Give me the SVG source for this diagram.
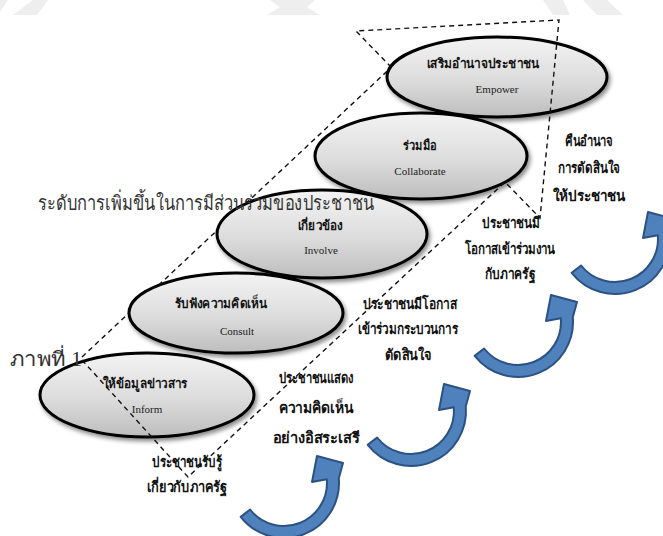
<svg xmlns="http://www.w3.org/2000/svg" width="663" height="536" viewBox="0 0 663 536">
<defs>
<linearGradient id="g" x1="0" y1="0" x2="0" y2="1">
<stop offset="0" stop-color="#f3f3f3"/><stop offset="0.55" stop-color="#dcdcdc"/><stop offset="1" stop-color="#bdbdbd"/>
</linearGradient>
<filter id="sh" x="-10%" y="-15%" width="125%" height="145%">
<feDropShadow dx="2" dy="3" stdDeviation="2" flood-color="#000" flood-opacity="0.45"/>
</filter>
<path id="carrow" d="M -43.3,33.9 A 55 55 0 0 0 54.8,-4.8 L 59,-20 L 33,-27 L 28,-1 L 42.8,-3.7 A 43 43 0 0 1 -33.9,26.5 Z"/>
</defs>
<style>
.ell{fill:url(#g);stroke:#000;stroke-width:3;filter:url(#sh)}
.th{font-family:"Noto Sans","DejaVu Sans",sans-serif;font-weight:bold;font-size:13px;fill:#111;text-anchor:middle}
.en{font-family:"Liberation Serif",serif;font-size:11px;fill:#222;text-anchor:middle}
.lbl{font-family:"Noto Sans","DejaVu Sans",sans-serif;font-weight:bold;font-size:15px;fill:#111;text-anchor:middle}
.head{font-family:"Liberation Serif","Noto Sans",serif;font-size:20px;fill:#333}
.dash{fill:none;stroke:#111;stroke-width:1.4;stroke-dasharray:5 4}
.arr{fill:#4f81bd;stroke:#2c5282;stroke-width:2;stroke-linejoin:round}
.wm{fill:#eeeeee}
</style>
<g id="watermark">
<polygon class="wm" points="0,0 8,0 0,12"/>
<polygon class="wm" points="33,0 48,0 37,15 13,15"/>
<polygon class="wm" points="270,0 315,0 307,7 320,15 267,15 280,7"/>
<polygon class="wm" points="543,0 563,0 570,15 553,15"/>
<polygon class="wm" points="583,0 607,0 623,15 597,15"/>
</g>
<g id="empower">
<ellipse class="ell" cx="497" cy="77" rx="110" ry="40"/>
<text class="th" x="483" y="68" textLength="113" lengthAdjust="spacingAndGlyphs">เสริมอำนาจประชาชน</text>
<text class="en" x="497" y="93">Empower</text>
</g>
<g id="collaborate">
<ellipse class="ell" cx="421" cy="156" rx="106" ry="43"/>
<text class="th" x="420" y="150" textLength="34" lengthAdjust="spacingAndGlyphs">ร่วมมือ</text>
<text class="en" x="420" y="175">Collaborate</text>
</g>
<g id="involve">
<ellipse class="ell" cx="322" cy="234" rx="105" ry="44"/>
<text class="th" x="320" y="230" textLength="45" lengthAdjust="spacingAndGlyphs">เกี่ยวข้อง</text>
<text class="en" x="321" y="254">Involve</text>
</g>
<g id="consult">
<ellipse class="ell" cx="236" cy="313" rx="107" ry="40"/>
<text class="th" x="221" y="308" textLength="92" lengthAdjust="spacingAndGlyphs">รับฟังความคิดเห็น</text>
<text class="en" x="237" y="335">Consult</text>
</g>
<g id="inform">
<ellipse class="ell" cx="147" cy="395" rx="107" ry="42"/>
<text class="th" x="145" y="388" textLength="85" lengthAdjust="spacingAndGlyphs">ให้ข้อมูลข่าวสาร</text>
<text class="en" x="147" y="413">Inform</text>
</g>
<g id="titles">
<text class="head" x="38" y="210" textLength="337" lengthAdjust="spacingAndGlyphs">ระดับการเพิ่มขึ้นในการมีส่วนร่วมของประชาชน</text>
<text class="head" x="10" y="366" font-size="22" textLength="72" lengthAdjust="spacingAndGlyphs">ภาพที่ 1</text>
</g>
<g id="labels">
<text class="lbl" x="187" y="467" textLength="70" lengthAdjust="spacingAndGlyphs">ประชาชนรับรู้</text>
<text class="lbl" x="187" y="492" textLength="80" lengthAdjust="spacingAndGlyphs">เกี่ยวกับภาครัฐ</text>
<text class="lbl" x="316" y="383" textLength="75" lengthAdjust="spacingAndGlyphs">ประชาชนแสดง</text>
<text class="lbl" x="316" y="413" textLength="75" lengthAdjust="spacingAndGlyphs">ความคิดเห็น</text>
<text class="lbl" x="316" y="443" textLength="87" lengthAdjust="spacingAndGlyphs">อย่างอิสระเสรี</text>
<text class="lbl" x="410" y="309" textLength="94" lengthAdjust="spacingAndGlyphs">ประชาชนมีโอกาส</text>
<text class="lbl" x="408" y="334" textLength="100" lengthAdjust="spacingAndGlyphs">เข้าร่วมกระบวนการ</text>
<text class="lbl" x="408" y="360" textLength="47" lengthAdjust="spacingAndGlyphs">ตัดสินใจ</text>
<text class="lbl" x="511" y="228" textLength="58" lengthAdjust="spacingAndGlyphs">ประชาชนมี</text>
<text class="lbl" x="510" y="254" textLength="90" lengthAdjust="spacingAndGlyphs">โอกาสเข้าร่วมงาน</text>
<text class="lbl" x="510" y="279" textLength="50" lengthAdjust="spacingAndGlyphs">กับภาครัฐ</text>
<text class="lbl" x="589" y="146" textLength="48" lengthAdjust="spacingAndGlyphs">คืนอำนาจ</text>
<text class="lbl" x="589" y="173" textLength="62" lengthAdjust="spacingAndGlyphs">การตัดสินใจ</text>
<text class="lbl" x="589" y="201" font-size="17" textLength="73" lengthAdjust="spacingAndGlyphs">ให้ประชาชน</text>
</g>
<g id="arrows">
<use href="#carrow" class="arr" transform="translate(284,483)"/>
<use href="#carrow" class="arr" transform="translate(411,411)"/>
<use href="#carrow" class="arr" transform="translate(518,322)"/>
<use href="#carrow" class="arr" transform="translate(615,239)"/>
</g>
<g id="connectors">
<path class="dash" d="M82,357 L129,313 M158.5,285.3 L217.5,230 M245.5,203.8 L387,71.3"/>
<path class="dash" d="M82,360 L188,477 L505,182 L540,218 L559,20 L356,31 L390,66"/>
</g>
</svg>
